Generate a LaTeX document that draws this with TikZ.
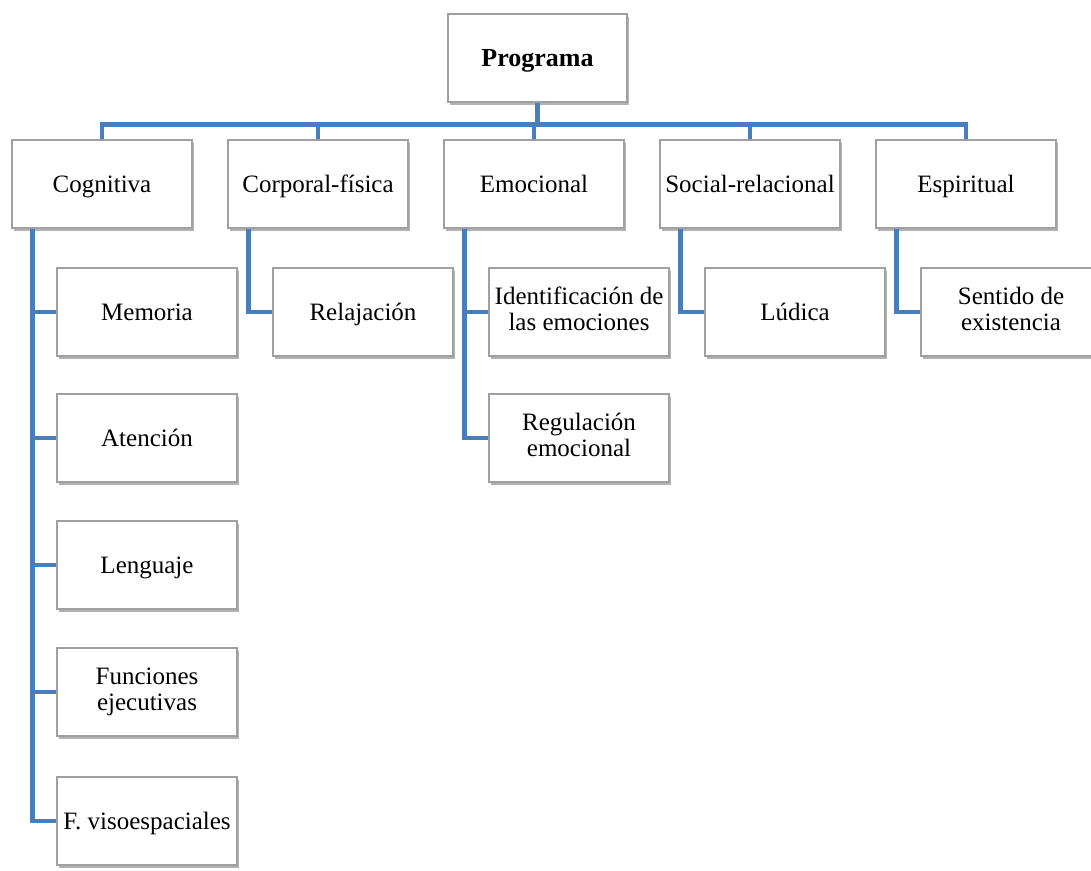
\documentclass[tikz,border=0pt]{standalone}
\usepackage{fontspec}
\setmainfont{Liberation Serif}
\usetikzlibrary{shadows}

\definecolor{linkblue}{RGB}{74,126,187}
\definecolor{boxgray}{RGB}{160,160,160}
% strut that keeps one- and two-line labels centred alike
\newcommand{\boxstrut}{\rule[-6pt]{0pt}{28pt}}

\begin{document}
\begin{tikzpicture}[x=1pt,y=-1pt,
    box/.style={rectangle,draw=boxgray,line width=1.1pt,fill=white,
      minimum width=180pt,minimum height=88pt,inner sep=2pt,align=center,
      font=\fontsize{25}{26}\selectfont,
      execute at begin node=\boxstrut,execute at end node=\boxstrut,
      drop shadow={shadow xshift=2pt,shadow yshift=-2.5pt,fill=black,opacity=.3}},
    link/.style={draw=linkblue,line width=4.2pt}]
        \useasboundingbox (0,0) rectangle (1091,870);

        % top and first level
        \node[box,minimum width=179pt,font=\fontsize{26}{28}\selectfont\bfseries] (prog) at (537.5,58) {Programa};
        \node[box] (cog)  at (102,184) {Cognitiva};
        \node[box] (corp) at (318,184) {Corporal-física};
        \node[box] (emo)  at (534,184) {Emocional};
        \node[box] (soc)  at (750,184) {Social-relacional};
        \node[box] (esp)  at (966,184) {Espiritual};

        % second level
        \node[box] (mem)   at (147,312) {Memoria};
        \node[box] (aten)  at (147,438) {Atención};
        \node[box] (leng)  at (147,565) {Lenguaje};
        \node[box] (func)  at (147,692) {Funciones\\ejecutivas};
        \node[box] (viso)  at (147,821) {F. visoespaciales};
        \node[box] (rel)   at (363,312) {Relajación};
        \node[box] (ident) at (579,312) {Identificación de\\las emociones};
        \node[box] (regul) at (579,438) {Regulación\\emocional};
        \node[box] (lud)   at (795,312) {Lúdica};
        \node[box] (sent)  at (1011,312) {Sentido de\\existencia};

        % bus under Programa
        \coordinate (bus) at (0,124.5);
        \draw[link] (prog.south) -- (prog.south |- bus);
        \draw[link] (cog.north) -- (cog.north |- bus) -- (esp.north |- bus) -- (esp.north);
        \foreach \n in {corp,emo,soc}
          \draw[link] (\n.north) -- (\n.north |- bus);

        % spines down the left side of each column
        \foreach \p/\c in {cog/viso,corp/rel,emo/regul,soc/lud,esp/sent}
          \draw[link] ([xshift=21pt]\p.south west) |- (\c.west);
        \foreach \c in {mem,aten,leng,func}
          \draw[link] ([xshift=21pt]cog.south west) |- (\c.west);
        \draw[link] ([xshift=21pt]emo.south west) |- (ident.west);
\end{tikzpicture}
\end{document}
